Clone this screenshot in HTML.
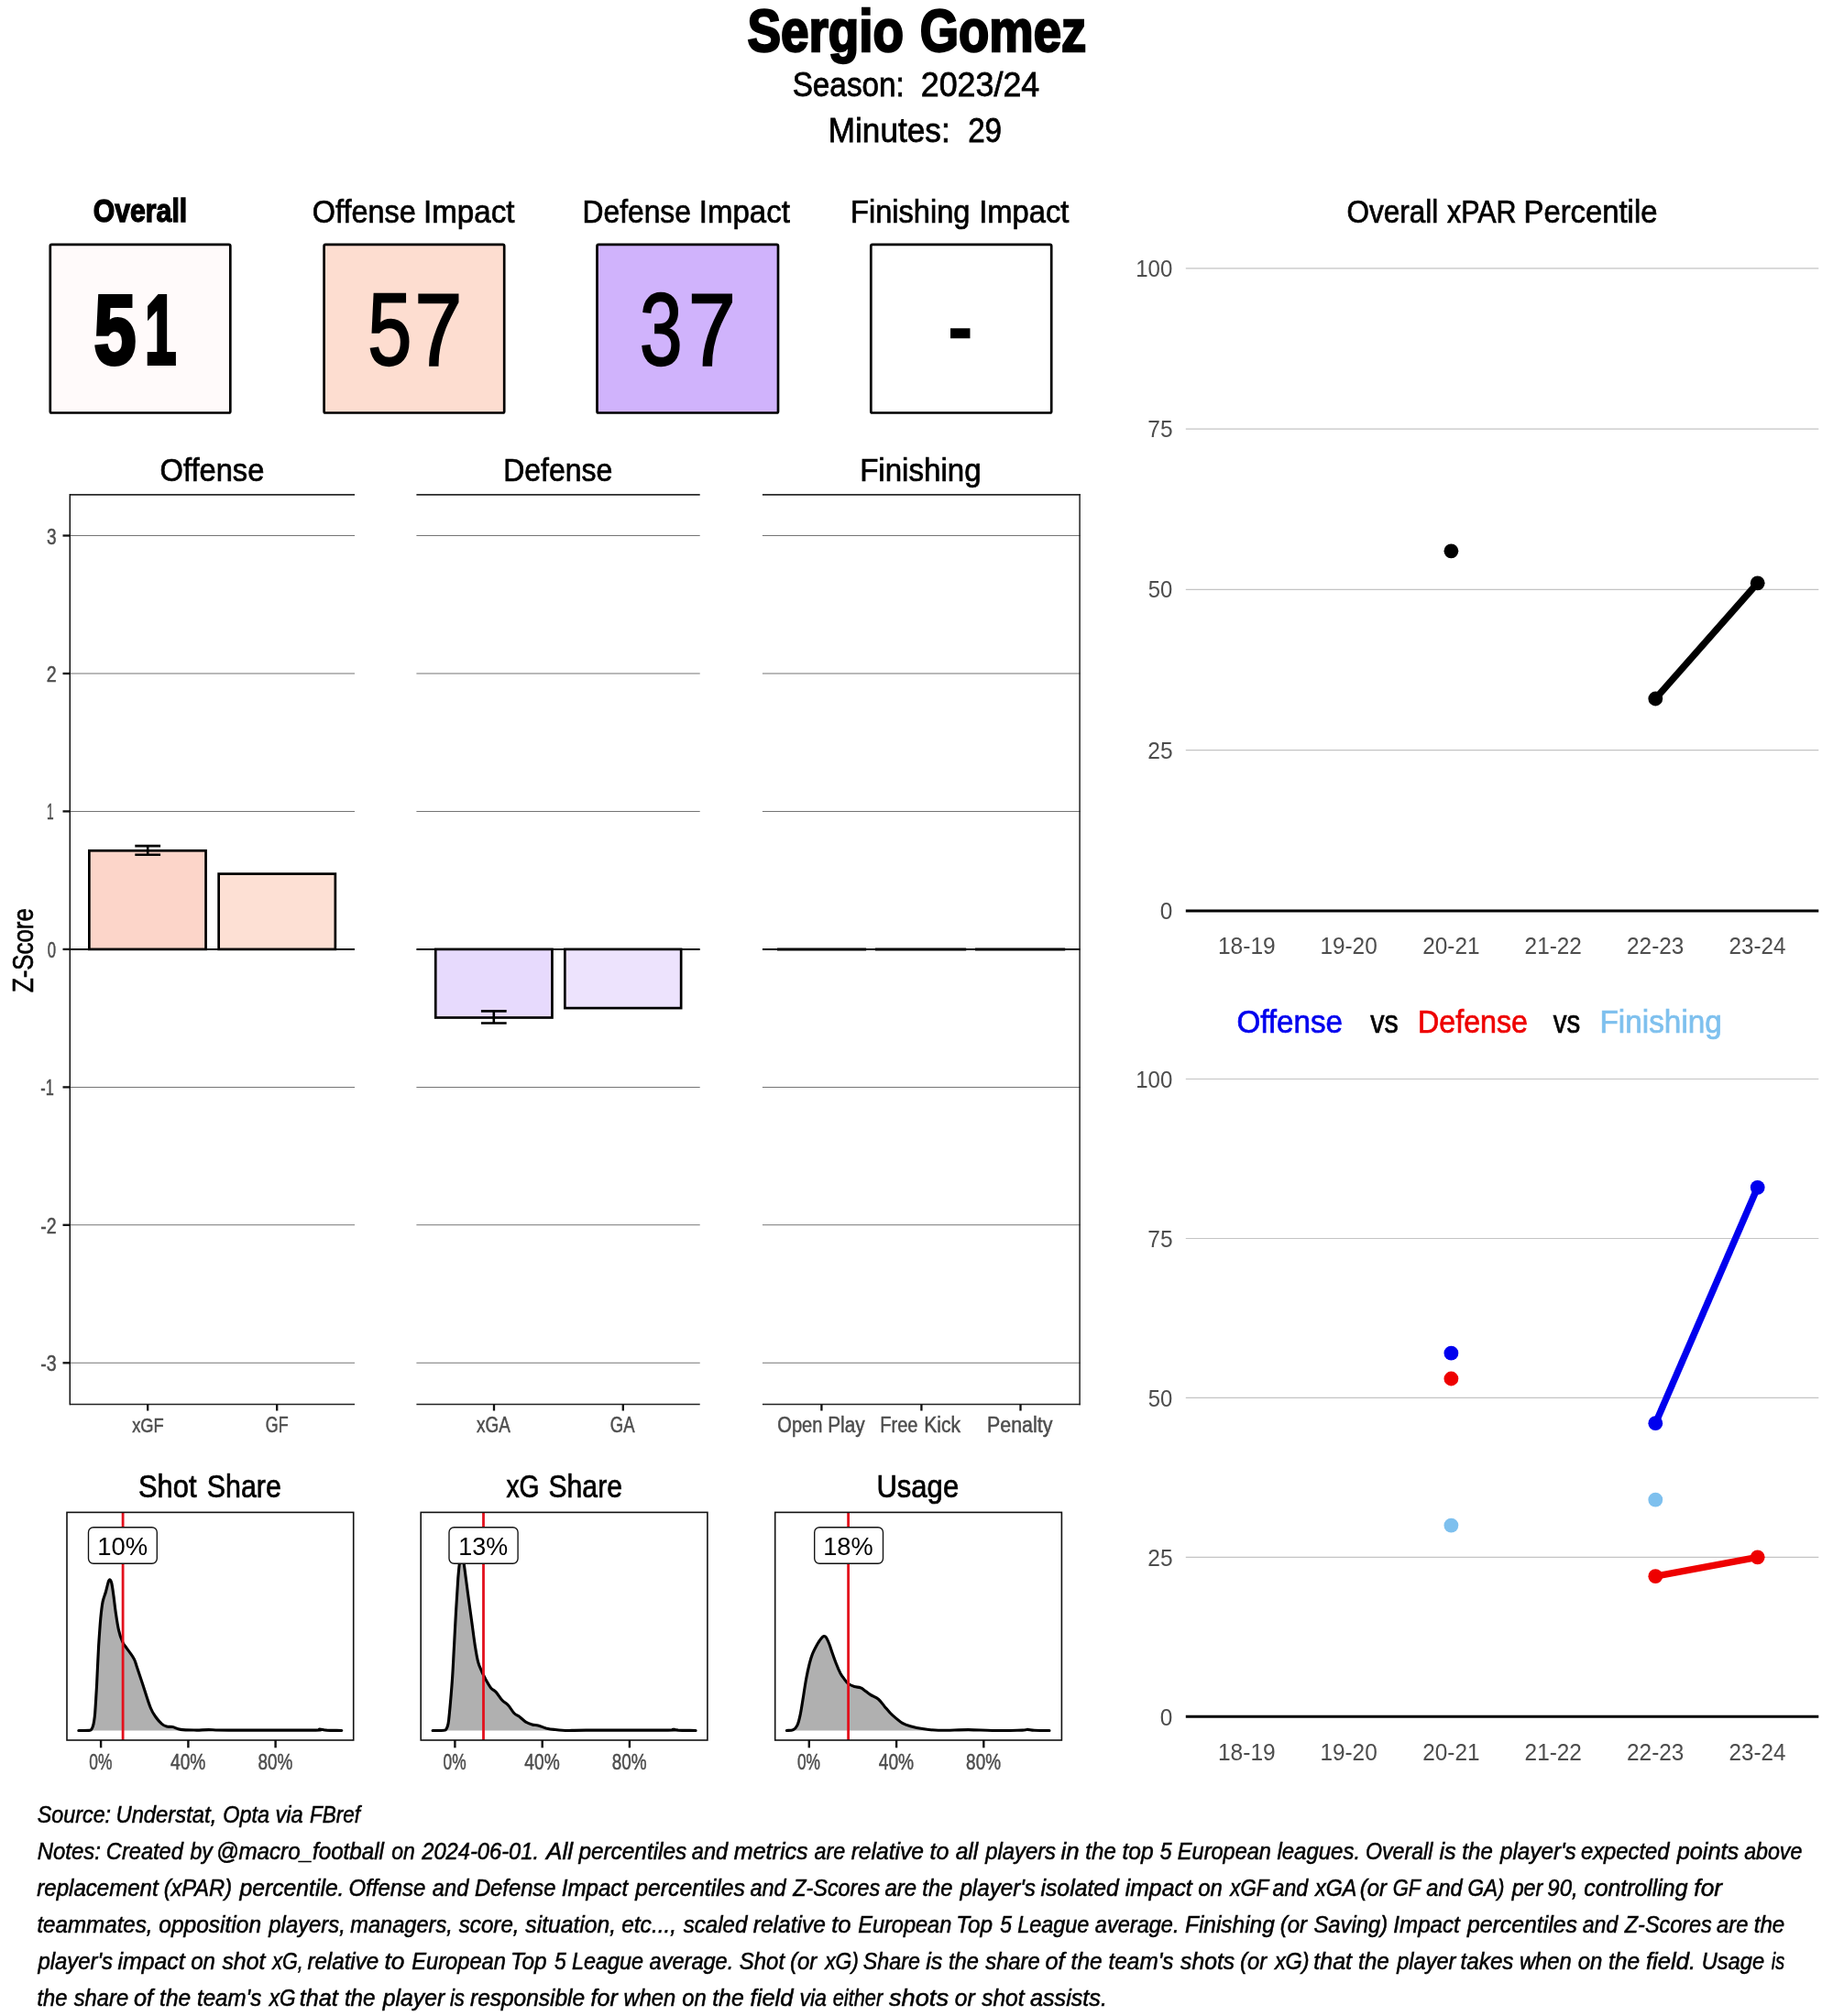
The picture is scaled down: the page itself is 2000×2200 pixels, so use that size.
<!DOCTYPE html>
<html><head><meta charset="utf-8"><title>Sergio Gomez</title>
<style>
html,body{margin:0;padding:0;background:#fff;}
svg{display:block;will-change:transform;}
text{font-family:"Liberation Sans",sans-serif;white-space:pre;}
</style></head><body>
<svg width="2000" height="2200" viewBox="0 0 2000 2200">
<rect width="2000" height="2200" fill="#fff"/>
<rect x="54.8" y="266.9" width="196.5" height="183.6" rx="1.6" fill="#FFFAFA" stroke="#000" stroke-width="2.7" stroke-linejoin="round"/>
<rect x="353.6" y="266.9" width="196.6" height="183.6" rx="1.6" fill="#FDDDD0" stroke="#000" stroke-width="2.7" stroke-linejoin="round"/>
<rect x="651.5" y="266.9" width="197.5" height="183.6" rx="1.6" fill="#D0B3FC" stroke="#000" stroke-width="2.7" stroke-linejoin="round"/>
<rect x="950.3" y="266.9" width="196.9" height="183.6" rx="1.6" fill="#FFFFFF" stroke="#000" stroke-width="2.7" stroke-linejoin="round"/>
<line x1="76.3" x2="387.0" y1="584.5" y2="584.5" stroke="#747474" stroke-width="1.05"/>
<line x1="76.3" x2="387.0" y1="735.0" y2="735.0" stroke="#747474" stroke-width="1.05"/>
<line x1="76.3" x2="387.0" y1="885.4" y2="885.4" stroke="#747474" stroke-width="1.05"/>
<line x1="76.3" x2="387.0" y1="1186.4" y2="1186.4" stroke="#747474" stroke-width="1.05"/>
<line x1="76.3" x2="387.0" y1="1336.8" y2="1336.8" stroke="#747474" stroke-width="1.05"/>
<line x1="76.3" x2="387.0" y1="1487.3" y2="1487.3" stroke="#747474" stroke-width="1.05"/>
<line x1="76.3" x2="387.0" y1="539.9" y2="539.9" stroke="#2b2b2b" stroke-width="1.9"/>
<line x1="76.3" x2="387.0" y1="1532.5" y2="1532.5" stroke="#222" stroke-width="1.6"/>
<line x1="76.3" x2="387.0" y1="1035.9" y2="1035.9" stroke="#000" stroke-width="2.0"/>
<line x1="454.4" x2="763.7" y1="584.5" y2="584.5" stroke="#747474" stroke-width="1.05"/>
<line x1="454.4" x2="763.7" y1="735.0" y2="735.0" stroke="#747474" stroke-width="1.05"/>
<line x1="454.4" x2="763.7" y1="885.4" y2="885.4" stroke="#747474" stroke-width="1.05"/>
<line x1="454.4" x2="763.7" y1="1186.4" y2="1186.4" stroke="#747474" stroke-width="1.05"/>
<line x1="454.4" x2="763.7" y1="1336.8" y2="1336.8" stroke="#747474" stroke-width="1.05"/>
<line x1="454.4" x2="763.7" y1="1487.3" y2="1487.3" stroke="#747474" stroke-width="1.05"/>
<line x1="454.4" x2="763.7" y1="539.9" y2="539.9" stroke="#2b2b2b" stroke-width="1.9"/>
<line x1="454.4" x2="763.7" y1="1532.5" y2="1532.5" stroke="#222" stroke-width="1.6"/>
<line x1="454.4" x2="763.7" y1="1035.9" y2="1035.9" stroke="#000" stroke-width="2.0"/>
<line x1="831.9" x2="1178.8" y1="584.5" y2="584.5" stroke="#747474" stroke-width="1.05"/>
<line x1="831.9" x2="1178.8" y1="735.0" y2="735.0" stroke="#747474" stroke-width="1.05"/>
<line x1="831.9" x2="1178.8" y1="885.4" y2="885.4" stroke="#747474" stroke-width="1.05"/>
<line x1="831.9" x2="1178.8" y1="1186.4" y2="1186.4" stroke="#747474" stroke-width="1.05"/>
<line x1="831.9" x2="1178.8" y1="1336.8" y2="1336.8" stroke="#747474" stroke-width="1.05"/>
<line x1="831.9" x2="1178.8" y1="1487.3" y2="1487.3" stroke="#747474" stroke-width="1.05"/>
<line x1="831.9" x2="1178.8" y1="539.9" y2="539.9" stroke="#2b2b2b" stroke-width="1.9"/>
<line x1="831.9" x2="1178.8" y1="1532.5" y2="1532.5" stroke="#222" stroke-width="1.6"/>
<line x1="831.9" x2="1178.8" y1="1035.9" y2="1035.9" stroke="#000" stroke-width="2.0"/>
<line x1="76.3" x2="76.3" y1="539.0" y2="1533.3" stroke="#111" stroke-width="1.5"/>
<line x1="1178.1" x2="1178.1" y1="539.0" y2="1533.3" stroke="#222" stroke-width="1.5"/>
<line x1="68.5" x2="76.5" y1="584.5" y2="584.5" stroke="#111" stroke-width="2.3"/>
<line x1="68.5" x2="76.5" y1="735.0" y2="735.0" stroke="#111" stroke-width="2.3"/>
<line x1="68.5" x2="76.5" y1="885.4" y2="885.4" stroke="#111" stroke-width="2.3"/>
<line x1="68.5" x2="76.5" y1="1035.9" y2="1035.9" stroke="#111" stroke-width="2.3"/>
<line x1="68.5" x2="76.5" y1="1186.4" y2="1186.4" stroke="#111" stroke-width="2.3"/>
<line x1="68.5" x2="76.5" y1="1336.8" y2="1336.8" stroke="#111" stroke-width="2.3"/>
<line x1="68.5" x2="76.5" y1="1487.3" y2="1487.3" stroke="#111" stroke-width="2.3"/>
<rect x="97.35" y="928.30" width="127.20" height="107.60" fill="#FCD5C9" stroke="#000" stroke-width="2.7" stroke-linejoin="miter"/>
<rect x="238.65" y="953.60" width="127.20" height="82.30" fill="#FDE0D4" stroke="#000" stroke-width="2.7" stroke-linejoin="miter"/>
<rect x="475.25" y="1035.90" width="127.20" height="74.60" fill="#E7DAFD" stroke="#000" stroke-width="2.7" stroke-linejoin="miter"/>
<rect x="616.35" y="1035.90" width="126.80" height="64.20" fill="#EDE3FD" stroke="#000" stroke-width="2.7" stroke-linejoin="miter"/>
<path d="M147.29999999999998 923.1H175.1M147.29999999999998 932.7H175.1M161.2 923.1V932.7" stroke="#000" stroke-width="2.6" fill="none"/>
<path d="M524.9 1103.4H552.6999999999999M524.9 1116.5H552.6999999999999M538.8 1103.4V1116.5" stroke="#000" stroke-width="2.6" fill="none"/>
<line x1="848.0" x2="945.1" y1="1035.9" y2="1035.9" stroke="#000" stroke-width="3"/>
<line x1="954.9" x2="1054.2" y1="1035.9" y2="1035.9" stroke="#000" stroke-width="3"/>
<line x1="1064.0" x2="1162.2" y1="1035.9" y2="1035.9" stroke="#000" stroke-width="3"/>
<line x1="161.2" x2="161.2" y1="1532.5" y2="1539.5" stroke="#111" stroke-width="2.3"/>
<line x1="302.2" x2="302.2" y1="1532.5" y2="1539.5" stroke="#111" stroke-width="2.3"/>
<line x1="539.0" x2="539.0" y1="1532.5" y2="1539.5" stroke="#111" stroke-width="2.3"/>
<line x1="679.8" x2="679.8" y1="1532.5" y2="1539.5" stroke="#111" stroke-width="2.3"/>
<line x1="896.4" x2="896.4" y1="1532.5" y2="1539.5" stroke="#111" stroke-width="2.3"/>
<line x1="1005.4" x2="1005.4" y1="1532.5" y2="1539.5" stroke="#111" stroke-width="2.3"/>
<line x1="1113.5" x2="1113.5" y1="1532.5" y2="1539.5" stroke="#111" stroke-width="2.3"/>
<path d="M85.8 1888.5C87.7 1888.5 94.8 1888.6 97.2 1888.4C99.5 1888.2 99.1 1887.9 99.8 1887.2C100.5 1886.5 100.8 1885.6 101.3 1884.1C101.8 1882.6 102.2 1880.8 102.6 1878.2C103.0 1875.7 103.2 1875.2 103.7 1868.8C104.2 1862.5 104.8 1852.1 105.5 1840.0C106.1 1828.0 106.9 1808.8 107.6 1796.4C108.4 1784.0 109.1 1773.8 109.8 1765.8C110.6 1757.8 111.1 1753.1 112.0 1748.4C112.9 1743.7 114.3 1741.1 115.3 1737.5C116.3 1733.8 117.4 1728.8 118.1 1726.6C118.9 1724.3 119.3 1723.8 119.9 1723.9C120.5 1724.1 121.1 1724.7 121.8 1727.7C122.5 1730.6 123.3 1736.6 124.0 1741.8C124.7 1747.1 125.3 1753.1 126.2 1759.3C127.1 1765.5 128.2 1773.5 129.5 1778.9C130.7 1784.4 132.4 1788.8 133.8 1792.0C135.3 1795.3 136.2 1795.7 138.2 1798.6C140.2 1801.5 144.0 1806.2 145.8 1809.5C147.7 1812.8 147.5 1813.5 149.1 1818.2C150.7 1822.9 153.1 1830.2 155.7 1837.9C158.2 1845.5 161.8 1857.9 164.4 1864.0C166.9 1870.2 168.9 1872.1 170.9 1875.0C172.9 1877.8 174.6 1879.5 176.4 1881.1C178.2 1882.6 179.8 1883.5 181.8 1884.1C183.8 1884.7 185.8 1884.0 188.4 1884.6C190.9 1885.1 192.8 1886.8 197.1 1887.4C201.5 1888.0 209.5 1888.0 214.6 1888.1C219.7 1888.1 221.9 1887.6 227.7 1887.6C233.5 1887.6 230.6 1888.0 249.5 1888.1C268.4 1888.1 324.6 1888.2 341.1 1888.1C357.7 1887.9 346.2 1887.0 348.8 1887.0C351.3 1887.0 352.4 1887.8 356.4 1888.1C360.4 1888.3 370.1 1888.4 372.8 1888.5L372.8 1888.5L85.8 1888.5Z" fill="#b0b0b0" stroke="none"/>
<path d="M85.8 1888.5C87.7 1888.5 94.8 1888.6 97.2 1888.4C99.5 1888.2 99.1 1887.9 99.8 1887.2C100.5 1886.5 100.8 1885.6 101.3 1884.1C101.8 1882.6 102.2 1880.8 102.6 1878.2C103.0 1875.7 103.2 1875.2 103.7 1868.8C104.2 1862.5 104.8 1852.1 105.5 1840.0C106.1 1828.0 106.9 1808.8 107.6 1796.4C108.4 1784.0 109.1 1773.8 109.8 1765.8C110.6 1757.8 111.1 1753.1 112.0 1748.4C112.9 1743.7 114.3 1741.1 115.3 1737.5C116.3 1733.8 117.4 1728.8 118.1 1726.6C118.9 1724.3 119.3 1723.8 119.9 1723.9C120.5 1724.1 121.1 1724.7 121.8 1727.7C122.5 1730.6 123.3 1736.6 124.0 1741.8C124.7 1747.1 125.3 1753.1 126.2 1759.3C127.1 1765.5 128.2 1773.5 129.5 1778.9C130.7 1784.4 132.4 1788.8 133.8 1792.0C135.3 1795.3 136.2 1795.7 138.2 1798.6C140.2 1801.5 144.0 1806.2 145.8 1809.5C147.7 1812.8 147.5 1813.5 149.1 1818.2C150.7 1822.9 153.1 1830.2 155.7 1837.9C158.2 1845.5 161.8 1857.9 164.4 1864.0C166.9 1870.2 168.9 1872.1 170.9 1875.0C172.9 1877.8 174.6 1879.5 176.4 1881.1C178.2 1882.6 179.8 1883.5 181.8 1884.1C183.8 1884.7 185.8 1884.0 188.4 1884.6C190.9 1885.1 192.8 1886.8 197.1 1887.4C201.5 1888.0 209.5 1888.0 214.6 1888.1C219.7 1888.1 221.9 1887.6 227.7 1887.6C233.5 1887.6 230.6 1888.0 249.5 1888.1C268.4 1888.1 324.6 1888.2 341.1 1888.1C357.7 1887.9 346.2 1887.0 348.8 1887.0C351.3 1887.0 352.4 1887.8 356.4 1888.1C360.4 1888.3 370.1 1888.4 372.8 1888.5" fill="none" stroke="#000" stroke-width="3.1" stroke-linejoin="round" stroke-linecap="round"/>
<line x1="134.1" x2="134.1" y1="1650.4" y2="1899.0" stroke="#e3101c" stroke-width="2.8"/>
<rect x="73.0" y="1650.4" width="312.7" height="248.6" fill="none" stroke="#111" stroke-width="1.6"/>
<rect x="96.5" y="1666.7" width="74.8" height="39.6" rx="5.5" ry="5.5" fill="#fff" stroke="#111" stroke-width="1.35"/>
<line x1="110.1" x2="110.1" y1="1899.0" y2="1907.3" stroke="#111" stroke-width="2.4"/>
<line x1="205.4" x2="205.4" y1="1899.0" y2="1907.3" stroke="#111" stroke-width="2.4"/>
<line x1="300.6" x2="300.6" y1="1899.0" y2="1907.3" stroke="#111" stroke-width="2.4"/>
<path d="M472.1 1888.5C474.2 1888.5 482.1 1888.6 484.6 1888.3C487.0 1888.0 486.3 1887.6 487.0 1886.7C487.6 1885.9 488.0 1884.9 488.5 1883.3C488.9 1881.7 489.1 1881.4 489.6 1877.1C490.1 1872.8 490.8 1865.5 491.5 1857.5C492.2 1849.5 493.1 1839.3 493.7 1829.1C494.4 1818.9 494.8 1808.4 495.5 1796.4C496.1 1784.4 496.9 1769.5 497.6 1757.1C498.4 1744.8 499.2 1730.9 499.8 1722.2C500.5 1713.5 500.9 1708.7 501.6 1704.7C502.2 1700.8 503.0 1698.6 503.8 1698.6C504.5 1698.6 505.1 1700.5 505.9 1704.7C506.7 1709.0 507.6 1717.1 508.6 1724.4C509.5 1731.7 510.7 1740.4 511.8 1748.4C512.9 1756.4 514.0 1764.4 515.1 1772.4C516.2 1780.4 517.3 1789.5 518.4 1796.4C519.5 1803.3 520.4 1809.1 521.7 1813.9C522.9 1818.6 524.6 1821.5 526.0 1824.8C527.5 1828.0 528.7 1830.6 530.4 1833.5C532.0 1836.4 534.0 1840.0 535.8 1842.2C537.7 1844.4 539.3 1844.4 541.3 1846.6C543.3 1848.8 545.7 1853.0 547.8 1855.3C550.0 1857.7 552.2 1858.4 554.4 1860.8C556.6 1863.1 558.8 1867.3 560.9 1869.5C563.1 1871.7 565.3 1872.2 567.5 1873.9C569.7 1875.5 571.8 1878.0 574.0 1879.3C576.2 1880.7 578.4 1881.3 580.6 1881.9C582.8 1882.6 584.6 1882.4 587.1 1883.0C589.7 1883.7 592.9 1885.1 595.8 1885.9C598.8 1886.6 600.6 1887.0 604.6 1887.4C608.6 1887.8 614.0 1888.4 619.9 1888.5C625.7 1888.6 621.3 1888.1 639.5 1888.1C657.7 1888.0 713.1 1888.2 729.0 1888.1C744.8 1887.9 732.6 1887.2 734.4 1887.2C736.2 1887.2 735.8 1887.8 739.9 1888.1C744.0 1888.3 755.9 1888.4 759.1 1888.5L759.1 1888.5L472.1 1888.5Z" fill="#b0b0b0" stroke="none"/>
<path d="M472.1 1888.5C474.2 1888.5 482.1 1888.6 484.6 1888.3C487.0 1888.0 486.3 1887.6 487.0 1886.7C487.6 1885.9 488.0 1884.9 488.5 1883.3C488.9 1881.7 489.1 1881.4 489.6 1877.1C490.1 1872.8 490.8 1865.5 491.5 1857.5C492.2 1849.5 493.1 1839.3 493.7 1829.1C494.4 1818.9 494.8 1808.4 495.5 1796.4C496.1 1784.4 496.9 1769.5 497.6 1757.1C498.4 1744.8 499.2 1730.9 499.8 1722.2C500.5 1713.5 500.9 1708.7 501.6 1704.7C502.2 1700.8 503.0 1698.6 503.8 1698.6C504.5 1698.6 505.1 1700.5 505.9 1704.7C506.7 1709.0 507.6 1717.1 508.6 1724.4C509.5 1731.7 510.7 1740.4 511.8 1748.4C512.9 1756.4 514.0 1764.4 515.1 1772.4C516.2 1780.4 517.3 1789.5 518.4 1796.4C519.5 1803.3 520.4 1809.1 521.7 1813.9C522.9 1818.6 524.6 1821.5 526.0 1824.8C527.5 1828.0 528.7 1830.6 530.4 1833.5C532.0 1836.4 534.0 1840.0 535.8 1842.2C537.7 1844.4 539.3 1844.4 541.3 1846.6C543.3 1848.8 545.7 1853.0 547.8 1855.3C550.0 1857.7 552.2 1858.4 554.4 1860.8C556.6 1863.1 558.8 1867.3 560.9 1869.5C563.1 1871.7 565.3 1872.2 567.5 1873.9C569.7 1875.5 571.8 1878.0 574.0 1879.3C576.2 1880.7 578.4 1881.3 580.6 1881.9C582.8 1882.6 584.6 1882.4 587.1 1883.0C589.7 1883.7 592.9 1885.1 595.8 1885.9C598.8 1886.6 600.6 1887.0 604.6 1887.4C608.6 1887.8 614.0 1888.4 619.9 1888.5C625.7 1888.6 621.3 1888.1 639.5 1888.1C657.7 1888.0 713.1 1888.2 729.0 1888.1C744.8 1887.9 732.6 1887.2 734.4 1887.2C736.2 1887.2 735.8 1887.8 739.9 1888.1C744.0 1888.3 755.9 1888.4 759.1 1888.5" fill="none" stroke="#000" stroke-width="3.1" stroke-linejoin="round" stroke-linecap="round"/>
<line x1="527.5" x2="527.5" y1="1650.4" y2="1899.0" stroke="#e3101c" stroke-width="2.8"/>
<rect x="459.2" y="1650.4" width="312.7" height="248.6" fill="none" stroke="#111" stroke-width="1.6"/>
<rect x="490.0" y="1666.7" width="75.1" height="39.6" rx="5.5" ry="5.5" fill="#fff" stroke="#111" stroke-width="1.35"/>
<line x1="496.4" x2="496.4" y1="1899.0" y2="1907.3" stroke="#111" stroke-width="2.4"/>
<line x1="591.7" x2="591.7" y1="1899.0" y2="1907.3" stroke="#111" stroke-width="2.4"/>
<line x1="686.9" x2="686.9" y1="1899.0" y2="1907.3" stroke="#111" stroke-width="2.4"/>
<path d="M858.4 1888.5C859.6 1888.3 863.7 1888.6 865.6 1887.6C867.6 1886.6 868.7 1885.4 870.0 1882.6C871.3 1879.8 872.2 1875.9 873.3 1870.6C874.4 1865.3 875.5 1857.5 876.6 1851.0C877.6 1844.4 878.7 1837.1 879.8 1831.3C880.9 1825.5 882.0 1820.4 883.1 1816.0C884.2 1811.7 884.9 1808.8 886.4 1805.1C887.8 1801.5 890.2 1797.1 891.8 1794.2C893.5 1791.3 895.0 1789.1 896.2 1787.7C897.4 1786.2 898.1 1785.6 899.0 1785.5C899.9 1785.4 900.7 1785.8 901.7 1787.2C902.6 1788.7 903.8 1791.4 904.9 1794.2C906.0 1797.0 906.9 1800.4 908.2 1804.0C909.5 1807.7 911.1 1812.4 912.6 1816.0C914.0 1819.7 915.5 1823.1 916.9 1825.9C918.4 1828.6 919.8 1830.5 921.3 1832.4C922.7 1834.3 923.8 1836.1 925.7 1837.4C927.5 1838.8 930.0 1839.8 932.2 1840.5C934.4 1841.2 936.9 1841.1 938.8 1841.8C940.6 1842.4 941.3 1843.1 943.1 1844.4C944.9 1845.7 947.1 1847.8 949.7 1849.4C952.2 1851.1 955.8 1852.2 958.4 1854.2C960.9 1856.3 962.8 1859.3 964.9 1861.9C967.1 1864.4 969.3 1867.2 971.5 1869.5C973.7 1871.8 975.8 1873.6 978.0 1875.4C980.2 1877.2 982.0 1879.0 984.6 1880.4C987.1 1881.8 989.7 1882.7 993.3 1883.7C996.9 1884.7 1001.3 1885.8 1006.4 1886.5C1011.5 1887.3 1015.5 1888.1 1023.9 1888.3C1032.2 1888.5 1046.8 1887.6 1056.6 1887.6C1066.4 1887.7 1073.0 1888.4 1082.8 1888.5C1092.6 1888.6 1109.1 1888.2 1115.5 1888.1C1121.9 1887.9 1118.8 1887.4 1121.0 1887.4C1123.1 1887.4 1124.6 1888.1 1128.6 1888.3C1132.6 1888.5 1142.2 1888.5 1145.0 1888.5L1145.0 1888.5L858.4 1888.5Z" fill="#b0b0b0" stroke="none"/>
<path d="M858.4 1888.5C859.6 1888.3 863.7 1888.6 865.6 1887.6C867.6 1886.6 868.7 1885.4 870.0 1882.6C871.3 1879.8 872.2 1875.9 873.3 1870.6C874.4 1865.3 875.5 1857.5 876.6 1851.0C877.6 1844.4 878.7 1837.1 879.8 1831.3C880.9 1825.5 882.0 1820.4 883.1 1816.0C884.2 1811.7 884.9 1808.8 886.4 1805.1C887.8 1801.5 890.2 1797.1 891.8 1794.2C893.5 1791.3 895.0 1789.1 896.2 1787.7C897.4 1786.2 898.1 1785.6 899.0 1785.5C899.9 1785.4 900.7 1785.8 901.7 1787.2C902.6 1788.7 903.8 1791.4 904.9 1794.2C906.0 1797.0 906.9 1800.4 908.2 1804.0C909.5 1807.7 911.1 1812.4 912.6 1816.0C914.0 1819.7 915.5 1823.1 916.9 1825.9C918.4 1828.6 919.8 1830.5 921.3 1832.4C922.7 1834.3 923.8 1836.1 925.7 1837.4C927.5 1838.8 930.0 1839.8 932.2 1840.5C934.4 1841.2 936.9 1841.1 938.8 1841.8C940.6 1842.4 941.3 1843.1 943.1 1844.4C944.9 1845.7 947.1 1847.8 949.7 1849.4C952.2 1851.1 955.8 1852.2 958.4 1854.2C960.9 1856.3 962.8 1859.3 964.9 1861.9C967.1 1864.4 969.3 1867.2 971.5 1869.5C973.7 1871.8 975.8 1873.6 978.0 1875.4C980.2 1877.2 982.0 1879.0 984.6 1880.4C987.1 1881.8 989.7 1882.7 993.3 1883.7C996.9 1884.7 1001.3 1885.8 1006.4 1886.5C1011.5 1887.3 1015.5 1888.1 1023.9 1888.3C1032.2 1888.5 1046.8 1887.6 1056.6 1887.6C1066.4 1887.7 1073.0 1888.4 1082.8 1888.5C1092.6 1888.6 1109.1 1888.2 1115.5 1888.1C1121.9 1887.9 1118.8 1887.4 1121.0 1887.4C1123.1 1887.4 1124.6 1888.1 1128.6 1888.3C1132.6 1888.5 1142.2 1888.5 1145.0 1888.5" fill="none" stroke="#000" stroke-width="3.1" stroke-linejoin="round" stroke-linecap="round"/>
<line x1="925.6" x2="925.6" y1="1650.4" y2="1899.0" stroke="#e3101c" stroke-width="2.8"/>
<rect x="845.7" y="1650.4" width="312.7" height="248.6" fill="none" stroke="#111" stroke-width="1.6"/>
<rect x="888.7" y="1666.7" width="74.8" height="39.6" rx="5.5" ry="5.5" fill="#fff" stroke="#111" stroke-width="1.35"/>
<line x1="882.8" x2="882.8" y1="1899.0" y2="1907.3" stroke="#111" stroke-width="2.4"/>
<line x1="978.1" x2="978.1" y1="1899.0" y2="1907.3" stroke="#111" stroke-width="2.4"/>
<line x1="1073.3" x2="1073.3" y1="1899.0" y2="1907.3" stroke="#111" stroke-width="2.4"/>
<line x1="1293.8" x2="1984.3" y1="292.8" y2="292.8" stroke="#c4c4c4" stroke-width="1.15"/>
<line x1="1293.8" x2="1984.3" y1="468.1" y2="468.1" stroke="#c4c4c4" stroke-width="1.15"/>
<line x1="1293.8" x2="1984.3" y1="643.4" y2="643.4" stroke="#c4c4c4" stroke-width="1.15"/>
<line x1="1293.8" x2="1984.3" y1="818.6" y2="818.6" stroke="#c4c4c4" stroke-width="1.15"/>
<line x1="1806.3" y1="762.5" x2="1917.7" y2="636.3" stroke="#000" stroke-width="7.4" stroke-linecap="butt"/>
<circle cx="1583.4" cy="601.3" r="7.9" fill="#000"/>
<circle cx="1806.3" cy="762.5" r="7.9" fill="#000"/>
<circle cx="1917.7" cy="636.3" r="7.9" fill="#000"/>
<line x1="1293.8" x2="1984.3" y1="993.9" y2="993.9" stroke="#000" stroke-width="3"/>
<line x1="1293.8" x2="1984.3" y1="1177.5" y2="1177.5" stroke="#c4c4c4" stroke-width="1.15"/>
<line x1="1293.8" x2="1984.3" y1="1351.5" y2="1351.5" stroke="#c4c4c4" stroke-width="1.15"/>
<line x1="1293.8" x2="1984.3" y1="1525.4" y2="1525.4" stroke="#c4c4c4" stroke-width="1.15"/>
<line x1="1293.8" x2="1984.3" y1="1699.3" y2="1699.3" stroke="#c4c4c4" stroke-width="1.15"/>
<circle cx="1583.4" cy="1664.6" r="7.9" fill="#7EC0EE"/>
<circle cx="1806.3" cy="1636.7" r="7.9" fill="#7EC0EE"/>
<line x1="1806.3" y1="1720.2" x2="1917.7" y2="1699.3" stroke="#EE0000" stroke-width="7.4" stroke-linecap="butt"/>
<circle cx="1583.4" cy="1504.5" r="7.9" fill="#EE0000"/>
<circle cx="1806.3" cy="1720.2" r="7.9" fill="#EE0000"/>
<circle cx="1917.7" cy="1699.3" r="7.9" fill="#EE0000"/>
<line x1="1806.3" y1="1553.2" x2="1917.7" y2="1295.8" stroke="#0000EE" stroke-width="7.4" stroke-linecap="butt"/>
<circle cx="1583.4" cy="1476.7" r="7.9" fill="#0000EE"/>
<circle cx="1806.3" cy="1553.2" r="7.9" fill="#0000EE"/>
<circle cx="1917.7" cy="1295.8" r="7.9" fill="#0000EE"/>
<line x1="1293.8" x2="1984.3" y1="1873.3" y2="1873.3" stroke="#000" stroke-width="3"/>
<text transform="translate(0 56.37) scale(0.8423 1)" font-size="64.88" font-weight="bold" stroke="#000" stroke-width="2.46"><tspan x="968.05" textLength="202.74" lengthAdjust="spacingAndGlyphs">Sergio</tspan> <tspan x="1191.66" textLength="215.40" lengthAdjust="spacingAndGlyphs">Gomez</tspan></text>
<text transform="translate(0 104.81) scale(0.9242 1)" font-size="37.4" stroke="#000" stroke-width="0.77"><tspan x="935.56" textLength="132.19" lengthAdjust="spacingAndGlyphs">Season:</tspan>  <tspan x="1087.15" textLength="140.17" lengthAdjust="spacingAndGlyphs">2023/24</tspan></text>
<text transform="translate(0 154.91) scale(0.9138 1)" font-size="37.4" stroke="#000" stroke-width="0.77"><tspan x="989.03" textLength="145.43" lengthAdjust="spacingAndGlyphs">Minutes:</tspan>  <tspan x="1155.77" textLength="40.40" lengthAdjust="spacingAndGlyphs">29</tspan></text>
<text transform="translate(101.73 242.34) scale(0.8707 1)" font-size="34.71" font-weight="bold" stroke="#000" stroke-width="1.32">Overall</text>
<text transform="translate(0 242.63) scale(0.9209 1)" font-size="35.57" stroke="#000" stroke-width="0.73"><tspan x="370.07" textLength="122.55" lengthAdjust="spacingAndGlyphs">Offense</tspan> <tspan x="501.72" textLength="107.92" lengthAdjust="spacingAndGlyphs">Impact</tspan></text>
<text transform="translate(0 242.63) scale(0.9102 1)" font-size="35.57" stroke="#000" stroke-width="0.73"><tspan x="698.27" textLength="129.99" lengthAdjust="spacingAndGlyphs">Defense</tspan> <tspan x="838.15" textLength="108.75" lengthAdjust="spacingAndGlyphs">Impact</tspan></text>
<text transform="translate(0 242.63) scale(0.9179 1)" font-size="35.57" stroke="#000" stroke-width="0.73"><tspan x="1011.02" textLength="142.07" lengthAdjust="spacingAndGlyphs">Finishing</tspan> <tspan x="1163.75" textLength="106.95" lengthAdjust="spacingAndGlyphs">Impact</tspan></text>
<text transform="translate(0 396.65) scale(0.6691 1)" font-size="108.13" font-weight="bold" stroke="#000" stroke-width="4.11"><tspan x="153.02" textLength="68.77" lengthAdjust="spacingAndGlyphs">5</tspan><tspan x="236.15" textLength="51.51" lengthAdjust="spacingAndGlyphs">1</tspan></text>
<text transform="translate(0 397.56) scale(0.8094 1)" font-size="110.78" stroke="#000" stroke-width="2.28"><tspan x="495.81" textLength="59.33" lengthAdjust="spacingAndGlyphs">5</tspan><tspan x="559.08" textLength="63.89" lengthAdjust="spacingAndGlyphs">7</tspan></text>
<text transform="translate(0 397.56) scale(0.7968 1)" font-size="110.78" stroke="#000" stroke-width="2.28"><tspan x="876.02" textLength="58.33" lengthAdjust="spacingAndGlyphs">3</tspan><tspan x="942.59" textLength="64.90" lengthAdjust="spacingAndGlyphs">7</tspan></text>
<text transform="translate(1034.30 393.46) scale(0.7317 1)" font-size="110.78" stroke="#000" stroke-width="2.28">-</text>
<text transform="translate(51.10 593.54) scale(0.7879 1)" font-size="24.13" fill="#4d4d4d" stroke="#4d4d4d" stroke-width="0.50">3</text>
<text transform="translate(50.78 744.01) scale(0.8130 1)" font-size="24.13" fill="#4d4d4d" stroke="#4d4d4d" stroke-width="0.50">2</text>
<text transform="translate(51.08 894.48) scale(0.5686 1)" font-size="24.13" fill="#4d4d4d" stroke="#4d4d4d" stroke-width="0.50">1</text>
<text transform="translate(51.85 1044.95) scale(0.6926 1)" font-size="24.13" fill="#4d4d4d" stroke="#4d4d4d" stroke-width="0.50">0</text>
<text transform="translate(44.36 1195.42) scale(0.6775 1)" font-size="24.13" fill="#4d4d4d" stroke="#4d4d4d" stroke-width="0.50">-1</text>
<text transform="translate(44.29 1345.89) scale(0.8111 1)" font-size="24.13" fill="#4d4d4d" stroke="#4d4d4d" stroke-width="0.50">-2</text>
<text transform="translate(44.29 1496.36) scale(0.8111 1)" font-size="24.13" fill="#4d4d4d" stroke="#4d4d4d" stroke-width="0.50">-3</text>
<text transform="translate(36.29 1083.04) rotate(-90) scale(0.8478 1)" font-size="30.49" stroke="#000" stroke-width="0.63">Z-Score</text>
<text transform="translate(174.61 524.84) scale(0.9294 1)" font-size="35.14" stroke="#000" stroke-width="0.72">Offense</text>
<text transform="translate(549.13 524.54) scale(0.9110 1)" font-size="35.14" stroke="#000" stroke-width="0.72">Defense</text>
<text transform="translate(938.15 524.64) scale(0.9419 1)" font-size="35.14" stroke="#000" stroke-width="0.72">Finishing</text>
<text transform="translate(144.19 1563.26) scale(0.7970 1)" font-size="23.0" fill="#4d4d4d" stroke="#4d4d4d" stroke-width="0.47">xGF</text>
<text transform="translate(289.75 1563.26) scale(0.7782 1)" font-size="23.0" fill="#4d4d4d" stroke="#4d4d4d" stroke-width="0.47">GF</text>
<text transform="translate(520.10 1563.26) scale(0.8253 1)" font-size="23.0" fill="#4d4d4d" stroke="#4d4d4d" stroke-width="0.47">xGA</text>
<text transform="translate(665.82 1563.26) scale(0.8033 1)" font-size="23.0" fill="#4d4d4d" stroke="#4d4d4d" stroke-width="0.47">GA</text>
<text transform="translate(0 1563.26) scale(0.8885 1)" font-size="23.0" fill="#4d4d4d" stroke="#4d4d4d" stroke-width="0.47"><tspan x="954.74" textLength="55.21" lengthAdjust="spacingAndGlyphs">Open</tspan> <tspan x="1016.56" textLength="45.58" lengthAdjust="spacingAndGlyphs">Play</tspan></text>
<text transform="translate(0 1563.26) scale(0.8941 1)" font-size="23.0" fill="#4d4d4d" stroke="#4d4d4d" stroke-width="0.47"><tspan x="1073.97" textLength="46.16" lengthAdjust="spacingAndGlyphs">Free</tspan> <tspan x="1127.69" textLength="44.49" lengthAdjust="spacingAndGlyphs">Kick</tspan></text>
<text transform="translate(1076.95 1563.26) scale(0.9311 1)" font-size="23.0" fill="#4d4d4d" stroke="#4d4d4d" stroke-width="0.47">Penalty</text>
<text transform="translate(106.28 1697.10) scale(0.9733 1)" font-size="28.2">10%</text>
<text transform="translate(97.24 1930.76) scale(0.7413 1)" font-size="23.43" fill="#4d4d4d" stroke="#4d4d4d" stroke-width="0.48">0%</text>
<text transform="translate(186.06 1930.76) scale(0.8183 1)" font-size="23.43" fill="#4d4d4d" stroke="#4d4d4d" stroke-width="0.48">40%</text>
<text transform="translate(281.42 1930.76) scale(0.8075 1)" font-size="23.43" fill="#4d4d4d" stroke="#4d4d4d" stroke-width="0.48">80%</text>
<text transform="translate(0 1634.14) scale(0.8721 1)" font-size="35.14" stroke="#000" stroke-width="0.72"><tspan x="173.09" textLength="72.84" lengthAdjust="spacingAndGlyphs">Shot</tspan> <tspan x="258.87" textLength="93.06" lengthAdjust="spacingAndGlyphs">Share</tspan></text>
<text transform="translate(500.32 1697.10) scale(0.9528 1)" font-size="28.2">13%</text>
<text transform="translate(483.54 1930.76) scale(0.7413 1)" font-size="23.43" fill="#4d4d4d" stroke="#4d4d4d" stroke-width="0.48">0%</text>
<text transform="translate(572.36 1930.76) scale(0.8183 1)" font-size="23.43" fill="#4d4d4d" stroke="#4d4d4d" stroke-width="0.48">40%</text>
<text transform="translate(667.72 1930.76) scale(0.8075 1)" font-size="23.43" fill="#4d4d4d" stroke="#4d4d4d" stroke-width="0.48">80%</text>
<text transform="translate(0 1634.14) scale(0.8306 1)" font-size="35.14" stroke="#000" stroke-width="0.72"><tspan x="665.15" textLength="43.37" lengthAdjust="spacingAndGlyphs">xG</tspan> <tspan x="720.50" textLength="96.97" lengthAdjust="spacingAndGlyphs">Share</tspan></text>
<text transform="translate(898.20 1697.10) scale(0.9640 1)" font-size="28.2">18%</text>
<text transform="translate(869.94 1930.76) scale(0.7413 1)" font-size="23.43" fill="#4d4d4d" stroke="#4d4d4d" stroke-width="0.48">0%</text>
<text transform="translate(958.76 1930.76) scale(0.8183 1)" font-size="23.43" fill="#4d4d4d" stroke="#4d4d4d" stroke-width="0.48">40%</text>
<text transform="translate(1054.12 1930.76) scale(0.8075 1)" font-size="23.43" fill="#4d4d4d" stroke="#4d4d4d" stroke-width="0.48">80%</text>
<text transform="translate(0 1634.14) scale(0.8837 1)" font-size="35.14" stroke="#000" stroke-width="0.72"><tspan x="1082.29" textLength="101.58" lengthAdjust="spacingAndGlyphs">Usage</tspan></text>
<text transform="translate(1239.20 301.80) scale(0.9614 1)" font-size="25" fill="#4d4d4d">100</text>
<text transform="translate(1252.35 477.08) scale(0.9835 1)" font-size="25" fill="#4d4d4d">75</text>
<text transform="translate(1252.75 652.35) scale(0.9544 1)" font-size="25" fill="#4d4d4d">50</text>
<text transform="translate(1252.35 827.62) scale(0.9835 1)" font-size="25" fill="#4d4d4d">25</text>
<text transform="translate(1265.74 1002.90) scale(0.9760 1)" font-size="25" fill="#4d4d4d">0</text>
<text transform="translate(1328.97 1040.80) scale(0.9810 1)" font-size="25" fill="#4d4d4d">18-19</text>
<text transform="translate(1440.40 1040.80) scale(0.9748 1)" font-size="25" fill="#4d4d4d">19-20</text>
<text transform="translate(1552.20 1040.80) scale(0.9748 1)" font-size="25" fill="#4d4d4d">20-21</text>
<text transform="translate(1663.62 1040.80) scale(0.9748 1)" font-size="25" fill="#4d4d4d">21-22</text>
<text transform="translate(1775.04 1040.80) scale(0.9748 1)" font-size="25" fill="#4d4d4d">22-23</text>
<text transform="translate(1886.46 1040.80) scale(0.9687 1)" font-size="25" fill="#4d4d4d">23-24</text>
<text transform="translate(1239.20 1187.20) scale(0.9614 1)" font-size="25" fill="#4d4d4d">100</text>
<text transform="translate(1252.35 1361.15) scale(0.9835 1)" font-size="25" fill="#4d4d4d">75</text>
<text transform="translate(1252.75 1535.10) scale(0.9544 1)" font-size="25" fill="#4d4d4d">50</text>
<text transform="translate(1252.35 1709.05) scale(0.9835 1)" font-size="25" fill="#4d4d4d">25</text>
<text transform="translate(1265.74 1883.00) scale(0.9760 1)" font-size="25" fill="#4d4d4d">0</text>
<text transform="translate(1328.97 1921.00) scale(0.9810 1)" font-size="25" fill="#4d4d4d">18-19</text>
<text transform="translate(1440.40 1921.00) scale(0.9748 1)" font-size="25" fill="#4d4d4d">19-20</text>
<text transform="translate(1552.20 1921.00) scale(0.9748 1)" font-size="25" fill="#4d4d4d">20-21</text>
<text transform="translate(1663.62 1921.00) scale(0.9748 1)" font-size="25" fill="#4d4d4d">21-22</text>
<text transform="translate(1775.04 1921.00) scale(0.9748 1)" font-size="25" fill="#4d4d4d">22-23</text>
<text transform="translate(1886.46 1921.00) scale(0.9687 1)" font-size="25" fill="#4d4d4d">23-24</text>
<text transform="translate(0 242.84) scale(0.8988 1)" font-size="35.14" stroke="#000" stroke-width="0.72"><tspan x="1634.84" textLength="111.04" lengthAdjust="spacingAndGlyphs">Overall</tspan> <tspan x="1756.85" textLength="84.03" lengthAdjust="spacingAndGlyphs">xPAR</tspan> <tspan x="1849.71" textLength="162.34" lengthAdjust="spacingAndGlyphs">Percentile</tspan></text>
<text transform="translate(1349.39 1127.24) scale(0.9444 1)" font-size="35.14" fill="#0000EE" stroke="#0000EE" stroke-width="0.72">Offense</text>
<text transform="translate(1495.31 1127.24) scale(0.8687 1)" font-size="35.14" stroke="#000" stroke-width="0.72">vs</text>
<text transform="translate(1547.01 1127.24) scale(0.9173 1)" font-size="35.14" fill="#EE0000" stroke="#EE0000" stroke-width="0.72">Defense</text>
<text transform="translate(1694.80 1127.24) scale(0.8399 1)" font-size="35.14" stroke="#000" stroke-width="0.72">vs</text>
<text transform="translate(1745.44 1127.24) scale(0.9493 1)" font-size="35.14" fill="#7EC0EE" stroke="#7EC0EE" stroke-width="0.72">Finishing</text>
<text transform="translate(0 1989.23) scale(0.8912 1)" font-size="26.24" font-style="italic" stroke="#000" stroke-width="0.54"><tspan x="45.76" textLength="97.40" lengthAdjust="spacingAndGlyphs">Source: </tspan><tspan x="141.90" textLength="130.62" lengthAdjust="spacingAndGlyphs">Understat, </tspan><tspan x="272.95" textLength="64.30" lengthAdjust="spacingAndGlyphs">Opta </tspan><tspan x="337.24" textLength="41.29" lengthAdjust="spacingAndGlyphs">via </tspan><tspan x="379.37" textLength="61.72" lengthAdjust="spacingAndGlyphs">FBref</tspan></text>
<text transform="translate(0 2029.33) scale(0.9170 1)" font-size="26.24" font-style="italic" stroke="#000" stroke-width="0.54"><tspan x="44.46" textLength="82.66" lengthAdjust="spacingAndGlyphs">Notes: </tspan><tspan x="126.32" textLength="98.80" lengthAdjust="spacingAndGlyphs">Created </tspan><tspan x="226.32" textLength="33.37" lengthAdjust="spacingAndGlyphs">by </tspan><tspan x="257.23" textLength="206.98" lengthAdjust="spacingAndGlyphs">@macro_football </tspan><tspan x="465.88" textLength="34.79" lengthAdjust="spacingAndGlyphs">on </tspan><tspan x="501.86" textLength="146.67" lengthAdjust="spacingAndGlyphs">2024-06-01. </tspan><tspan x="649.94" textLength="39.58" lengthAdjust="spacingAndGlyphs">All </tspan><tspan x="688.55" textLength="135.88" lengthAdjust="spacingAndGlyphs">percentiles </tspan><tspan x="823.19" textLength="50.05" lengthAdjust="spacingAndGlyphs">and </tspan><tspan x="873.23" textLength="95.75" lengthAdjust="spacingAndGlyphs">metrics </tspan><tspan x="968.99" textLength="43.73" lengthAdjust="spacingAndGlyphs">are </tspan><tspan x="1012.71" textLength="94.00" lengthAdjust="spacingAndGlyphs">relative </tspan><tspan x="1106.28" textLength="30.32" lengthAdjust="spacingAndGlyphs">to </tspan><tspan x="1137.02" textLength="34.24" lengthAdjust="spacingAndGlyphs">all </tspan><tspan x="1172.49" textLength="91.06" lengthAdjust="spacingAndGlyphs">players </tspan><tspan x="1262.32" textLength="29.66" lengthAdjust="spacingAndGlyphs">in </tspan><tspan x="1291.58" textLength="43.73" lengthAdjust="spacingAndGlyphs">the </tspan><tspan x="1335.29" textLength="44.71" lengthAdjust="spacingAndGlyphs">top </tspan><tspan x="1380.43" textLength="20.72" lengthAdjust="spacingAndGlyphs">5 </tspan><tspan x="1401.15" textLength="118.43" lengthAdjust="spacingAndGlyphs">European </tspan><tspan x="1519.57" textLength="106.11" lengthAdjust="spacingAndGlyphs">leagues. </tspan><tspan x="1624.90" textLength="86.91" lengthAdjust="spacingAndGlyphs">Overall </tspan><tspan x="1712.58" textLength="27.59" lengthAdjust="spacingAndGlyphs">is </tspan><tspan x="1739.77" textLength="43.73" lengthAdjust="spacingAndGlyphs">the </tspan><tspan x="1785.15" textLength="97.60" lengthAdjust="spacingAndGlyphs">player's </tspan><tspan x="1881.10" textLength="112.43" lengthAdjust="spacingAndGlyphs">expected </tspan><tspan x="1995.23" textLength="81.46" lengthAdjust="spacingAndGlyphs">points </tspan><tspan x="2075.40" textLength="68.99" lengthAdjust="spacingAndGlyphs">above</tspan></text>
<text transform="translate(0 2069.43) scale(0.9123 1)" font-size="26.24" font-style="italic" stroke="#000" stroke-width="0.54"><tspan x="44.14" textLength="152.48" lengthAdjust="spacingAndGlyphs">replacement </tspan><tspan x="195.82" textLength="88.79" lengthAdjust="spacingAndGlyphs">(xPAR) </tspan><tspan x="286.68" textLength="132.42" lengthAdjust="spacingAndGlyphs">percentile. </tspan><tspan x="417.01" textLength="99.31" lengthAdjust="spacingAndGlyphs">Offense </tspan><tspan x="517.15" textLength="50.53" lengthAdjust="spacingAndGlyphs">and </tspan><tspan x="567.68" textLength="104.36" lengthAdjust="spacingAndGlyphs">Defense </tspan><tspan x="671.62" textLength="86.71" lengthAdjust="spacingAndGlyphs">Impact </tspan><tspan x="760.01" textLength="138.45" lengthAdjust="spacingAndGlyphs">percentiles </tspan><tspan x="897.19" textLength="49.99" lengthAdjust="spacingAndGlyphs">and </tspan><tspan x="948.38" textLength="111.15" lengthAdjust="spacingAndGlyphs">Z-Scores </tspan><tspan x="1058.33" textLength="45.16" lengthAdjust="spacingAndGlyphs">are </tspan><tspan x="1103.08" textLength="43.41" lengthAdjust="spacingAndGlyphs">the </tspan><tspan x="1148.14" textLength="97.78" lengthAdjust="spacingAndGlyphs">player's </tspan><tspan x="1244.67" textLength="101.07" lengthAdjust="spacingAndGlyphs">isolated </tspan><tspan x="1345.74" textLength="87.58" lengthAdjust="spacingAndGlyphs">impact </tspan><tspan x="1432.92" textLength="36.50" lengthAdjust="spacingAndGlyphs">on </tspan><tspan x="1471.35" textLength="52.29" lengthAdjust="spacingAndGlyphs">xGF </tspan><tspan x="1522.12" textLength="49.33" lengthAdjust="spacingAndGlyphs">and </tspan><tspan x="1573.02" textLength="55.69" lengthAdjust="spacingAndGlyphs">xGA </tspan><tspan x="1626.31" textLength="39.35" lengthAdjust="spacingAndGlyphs">(or </tspan><tspan x="1665.76" textLength="39.46" lengthAdjust="spacingAndGlyphs">GF </tspan><tspan x="1705.95" textLength="50.20" lengthAdjust="spacingAndGlyphs">and </tspan><tspan x="1755.38" textLength="50.86" lengthAdjust="spacingAndGlyphs">GA) </tspan><tspan x="1808.21" textLength="43.96" lengthAdjust="spacingAndGlyphs">per </tspan><tspan x="1850.56" textLength="43.96" lengthAdjust="spacingAndGlyphs">90, </tspan><tspan x="1894.49" textLength="131.54" lengthAdjust="spacingAndGlyphs">controlling </tspan><tspan x="2026.00" textLength="33.73" lengthAdjust="spacingAndGlyphs">for</tspan></text>
<text transform="translate(0 2109.23) scale(0.9166 1)" font-size="26.24" font-style="italic" stroke="#000" stroke-width="0.54"><tspan x="44.07" textLength="144.99" lengthAdjust="spacingAndGlyphs">teammates, </tspan><tspan x="189.05" textLength="129.39" lengthAdjust="spacingAndGlyphs">opposition </tspan><tspan x="320.07" textLength="98.19" lengthAdjust="spacingAndGlyphs">players, </tspan><tspan x="417.04" textLength="128.84" lengthAdjust="spacingAndGlyphs">managers, </tspan><tspan x="546.29" textLength="79.20" lengthAdjust="spacingAndGlyphs">score, </tspan><tspan x="625.50" textLength="115.20" lengthAdjust="spacingAndGlyphs">situation, </tspan><tspan x="739.87" textLength="72.88" lengthAdjust="spacingAndGlyphs">etc..., </tspan><tspan x="813.57" textLength="83.35" lengthAdjust="spacingAndGlyphs">scaled </tspan><tspan x="896.51" textLength="93.71" lengthAdjust="spacingAndGlyphs">relative </tspan><tspan x="989.78" textLength="31.20" lengthAdjust="spacingAndGlyphs">to </tspan><tspan x="1021.43" textLength="118.48" lengthAdjust="spacingAndGlyphs">European </tspan><tspan x="1138.24" textLength="50.62" lengthAdjust="spacingAndGlyphs">Top </tspan><tspan x="1190.53" textLength="20.84" lengthAdjust="spacingAndGlyphs">5 </tspan><tspan x="1211.36" textLength="92.19" lengthAdjust="spacingAndGlyphs">League </tspan><tspan x="1303.55" textLength="107.13" lengthAdjust="spacingAndGlyphs">average. </tspan><tspan x="1410.67" textLength="114.00" lengthAdjust="spacingAndGlyphs">Finishing </tspan><tspan x="1523.86" textLength="39.27" lengthAdjust="spacingAndGlyphs">(or </tspan><tspan x="1563.96" textLength="95.13" lengthAdjust="spacingAndGlyphs">Saving) </tspan><tspan x="1658.67" textLength="86.29" lengthAdjust="spacingAndGlyphs">Impact </tspan><tspan x="1746.64" textLength="138.44" lengthAdjust="spacingAndGlyphs">percentiles </tspan><tspan x="1883.83" textLength="49.09" lengthAdjust="spacingAndGlyphs">and </tspan><tspan x="1934.11" textLength="110.62" lengthAdjust="spacingAndGlyphs">Z-Scores </tspan><tspan x="2043.54" textLength="44.73" lengthAdjust="spacingAndGlyphs">are </tspan><tspan x="2087.85" textLength="36.61" lengthAdjust="spacingAndGlyphs">the</tspan></text>
<text transform="translate(0 2149.33) scale(0.9136 1)" font-size="26.24" font-style="italic" stroke="#000" stroke-width="0.54"><tspan x="45.31" textLength="96.65" lengthAdjust="spacingAndGlyphs">player's </tspan><tspan x="140.73" textLength="87.57" lengthAdjust="spacingAndGlyphs">impact </tspan><tspan x="227.89" textLength="36.67" lengthAdjust="spacingAndGlyphs">on </tspan><tspan x="265.40" textLength="58.89" lengthAdjust="spacingAndGlyphs">shot </tspan><tspan x="325.35" textLength="43.24" lengthAdjust="spacingAndGlyphs">xG, </tspan><tspan x="367.10" textLength="92.60" lengthAdjust="spacingAndGlyphs">relative </tspan><tspan x="459.25" textLength="31.96" lengthAdjust="spacingAndGlyphs">to </tspan><tspan x="491.67" textLength="119.64" lengthAdjust="spacingAndGlyphs">European </tspan><tspan x="609.65" textLength="50.79" lengthAdjust="spacingAndGlyphs">Top </tspan><tspan x="662.11" textLength="20.91" lengthAdjust="spacingAndGlyphs">5 </tspan><tspan x="683.01" textLength="92.60" lengthAdjust="spacingAndGlyphs">League </tspan><tspan x="775.62" textLength="107.49" lengthAdjust="spacingAndGlyphs">average. </tspan><tspan x="883.10" textLength="61.19" lengthAdjust="spacingAndGlyphs">Shot </tspan><tspan x="943.47" textLength="39.41" lengthAdjust="spacingAndGlyphs">(or </tspan><tspan x="985.27" textLength="47.18" lengthAdjust="spacingAndGlyphs">xG) </tspan><tspan x="1030.88" textLength="74.98" lengthAdjust="spacingAndGlyphs">Share </tspan><tspan x="1105.85" textLength="27.47" lengthAdjust="spacingAndGlyphs">is </tspan><tspan x="1132.93" textLength="43.24" lengthAdjust="spacingAndGlyphs">the </tspan><tspan x="1176.98" textLength="72.24" lengthAdjust="spacingAndGlyphs">share </tspan><tspan x="1248.38" textLength="30.76" lengthAdjust="spacingAndGlyphs">of </tspan><tspan x="1279.15" textLength="44.77" lengthAdjust="spacingAndGlyphs">the </tspan><tspan x="1323.92" textLength="85.16" lengthAdjust="spacingAndGlyphs">team's </tspan><tspan x="1409.92" textLength="72.24" lengthAdjust="spacingAndGlyphs">shots </tspan><tspan x="1480.94" textLength="39.08" lengthAdjust="spacingAndGlyphs">(or </tspan><tspan x="1522.43" textLength="48.38" lengthAdjust="spacingAndGlyphs">xG) </tspan><tspan x="1568.77" textLength="53.42" lengthAdjust="spacingAndGlyphs">that </tspan><tspan x="1622.21" textLength="44.44" lengthAdjust="spacingAndGlyphs">the </tspan><tspan x="1668.28" textLength="77.61" lengthAdjust="spacingAndGlyphs">player </tspan><tspan x="1744.26" textLength="70.82" lengthAdjust="spacingAndGlyphs">takes </tspan><tspan x="1814.68" textLength="69.51" lengthAdjust="spacingAndGlyphs">when </tspan><tspan x="1884.60" textLength="36.45" lengthAdjust="spacingAndGlyphs">on </tspan><tspan x="1921.03" textLength="44.77" lengthAdjust="spacingAndGlyphs">the </tspan><tspan x="1965.78" textLength="67.21" lengthAdjust="spacingAndGlyphs">field. </tspan><tspan x="2032.22" textLength="82.10" lengthAdjust="spacingAndGlyphs">Usage </tspan><tspan x="2115.55" textLength="15.78" lengthAdjust="spacingAndGlyphs">is</tspan></text>
<text transform="translate(0 2188.83) scale(0.9281 1)" font-size="26.24" font-style="italic" stroke="#000" stroke-width="0.54"><tspan x="43.53" textLength="42.67" lengthAdjust="spacingAndGlyphs">the </tspan><tspan x="87.00" textLength="71.11" lengthAdjust="spacingAndGlyphs">share </tspan><tspan x="157.28" textLength="30.28" lengthAdjust="spacingAndGlyphs">of </tspan><tspan x="187.58" textLength="44.07" lengthAdjust="spacingAndGlyphs">the </tspan><tspan x="231.66" textLength="82.86" lengthAdjust="spacingAndGlyphs">team's </tspan><tspan x="316.44" textLength="37.60" lengthAdjust="spacingAndGlyphs">xG </tspan><tspan x="352.10" textLength="52.91" lengthAdjust="spacingAndGlyphs">that </tspan><tspan x="405.02" textLength="43.53" lengthAdjust="spacingAndGlyphs">the </tspan><tspan x="450.21" textLength="79.95" lengthAdjust="spacingAndGlyphs">player </tspan><tspan x="528.92" textLength="23.81" lengthAdjust="spacingAndGlyphs">is </tspan><tspan x="552.72" textLength="142.23" lengthAdjust="spacingAndGlyphs">responsible </tspan><tspan x="694.53" textLength="39.11" lengthAdjust="spacingAndGlyphs">for </tspan><tspan x="733.27" textLength="68.21" lengthAdjust="spacingAndGlyphs">when </tspan><tspan x="801.88" textLength="35.56" lengthAdjust="spacingAndGlyphs">on </tspan><tspan x="837.41" textLength="44.61" lengthAdjust="spacingAndGlyphs">the </tspan><tspan x="882.00" textLength="58.29" lengthAdjust="spacingAndGlyphs">field </tspan><tspan x="939.96" textLength="38.79" lengthAdjust="spacingAndGlyphs">via </tspan><tspan x="979.17" textLength="65.19" lengthAdjust="spacingAndGlyphs">either </tspan><tspan x="1045.15" textLength="78.23" lengthAdjust="spacingAndGlyphs">shots </tspan><tspan x="1122.52" textLength="30.82" lengthAdjust="spacingAndGlyphs">or </tspan><tspan x="1154.16" textLength="57.32" lengthAdjust="spacingAndGlyphs">shot </tspan><tspan x="1211.07" textLength="90.44" lengthAdjust="spacingAndGlyphs">assists.</tspan></text>
</svg>
</body></html>
